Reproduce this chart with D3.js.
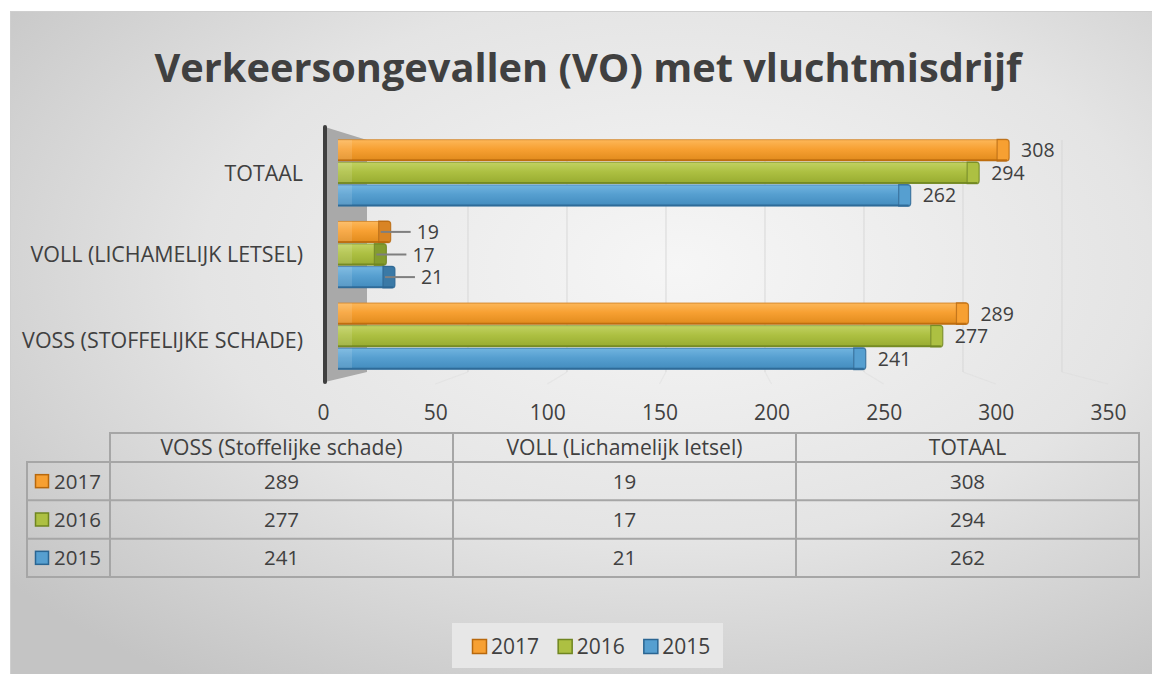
<!DOCTYPE html>
<html><head><meta charset="utf-8">
<script src="https://cdn.jsdelivr.net/npm/d3@7"></script>
<style>html,body{margin:0;padding:0;background:#fff;overflow:hidden}svg{display:block;font-family:"Open Sans",sans-serif}</style>
</head><body><svg id="c" width="1152" height="674"></svg>
<script>
// ---------- data ----------
const title = "Verkeersongevallen (VO) met vluchtmisdrijf";
const seriesYears = ["2017", "2016", "2015"];
const categories = ["VOSS (Stoffelijke schade)", "VOLL (Lichamelijk letsel)", "TOTAAL"];
const axisLabels = ["VOSS (STOFFELIJKE SCHADE)", "VOLL (LICHAMELIJK LETSEL)", "TOTAAL"];
const values2017 = [289, 19, 308];
const values2016 = [277, 17, 294];
const values2015 = [241, 21, 262];
const xTicks = [0, 50, 100, 150, 200, 250, 300, 350];

const seriesValues = { "2017": values2017, "2016": values2016, "2015": values2015 };
const palette = {
  "2017": { top: "#fdb85a", base: "#f7a032", bottom: "#e08a1c", edge: "#b8680c", cap: "#d98424" },
  "2016": { top: "#c2d263", base: "#adc042", bottom: "#97ab30", edge: "#6f8520", cap: "#849c2e" },
  "2015": { top: "#72b5e0", base: "#569fd0", bottom: "#428bbd", edge: "#2a6592", cap: "#3a79a6" }
};
const textColor = "#404040";

const svg = d3.select("#c");
const defs = svg.append("defs");

// background
const bg = defs.append("radialGradient").attr("id", "bg")
  .attr("cx", "58%").attr("cy", "38%").attr("r", "75%");
bg.append("stop").attr("offset", "0%").attr("stop-color", "#f6f6f6");
bg.append("stop").attr("offset", "55%").attr("stop-color", "#e4e4e4");
bg.append("stop").attr("offset", "100%").attr("stop-color", "#c4c4c4");
svg.append("rect").attr("x", 10.5).attr("y", 11.5).attr("width", 1150).attr("height", 670)
  .attr("fill", "url(#bg)").attr("stroke", "#cfcfcf");

seriesYears.forEach(y => {
  const g = defs.append("linearGradient").attr("id", "g" + y).attr("x1", 0).attr("y1", 0).attr("x2", 0).attr("y2", 1);
  g.append("stop").attr("offset", "0%").attr("stop-color", palette[y].top);
  g.append("stop").attr("offset", "45%").attr("stop-color", palette[y].base);
  g.append("stop").attr("offset", "100%").attr("stop-color", palette[y].bottom);
});

function fit(sel, target) {
  let w = 0;
  sel.each(function () { w = Math.max(w, this.getComputedTextLength()); });
  const fs = parseFloat(sel.attr("font-size"));
  sel.attr("font-size", (fs * target / w).toFixed(2));
}

// title
const t = svg.append("text").attr("x", 588).attr("y", 68).attr("dy", "0.35em")
  .attr("text-anchor", "middle").attr("font-weight", "bold").attr("font-size", 40)
  .attr("fill", textColor).text(title);
fit(t, 867);

// ---------- scales ----------
const xBar = d3.scaleLinear().domain([0, 350]).range([338, 1087]);
const xAxisS = d3.scaleLinear().domain([0, 350]).range([323, 1108]);
const xBack = d3.scaleLinear().domain([0, 350]).range([369, 1062]);
const yCat = d3.scaleBand().domain(categories.slice().reverse()).range([132, 377])
  .paddingInner(0.17).paddingOuter(0.085);
const ySer = d3.scaleBand().domain(seriesYears).range([0, yCat.bandwidth()]);

// side wall + gridlines
const wallTop = 127, wallBot = 382;
svg.append("polygon")
  .attr("points", [[xAxisS(0) + 2, wallTop], [xBack(0) - 2, wallTop + 13], [xBack(0) - 2, wallBot - 10], [xAxisS(0) + 2, wallBot]].join(" "))
  .attr("fill", "#a9a9a9");
const grid = svg.append("g").attr("stroke", "#d6d6d6").attr("stroke-width", 1.2);
xTicks.filter(d => d > 0).forEach(d => {
  grid.append("line").attr("x1", xBack(d)).attr("x2", xBack(d)).attr("y1", wallTop + 13).attr("y2", wallBot - 10)
    .attr("stroke-opacity", 0.8);
  grid.append("line").attr("x1", xAxisS(d)).attr("x2", xBack(d)).attr("y1", wallBot + 2).attr("y2", wallBot - 10)
    .attr("stroke-opacity", 0.35);
});
svg.append("line").attr("x1", xAxisS(0) + 2).attr("x2", xAxisS(0) + 2).attr("y1", wallTop).attr("y2", wallBot)
  .attr("stroke", "#3f3f3f").attr("stroke-width", 4).attr("stroke-linecap", "round");

// ---------- bars ----------
const capW = 12;
const bars = svg.append("g");
categories.forEach((cat, ci) => {
  seriesYears.forEach(yr => {
    const v = seriesValues[yr][ci];
    const p = palette[yr];
    const y0 = yCat(cat) + ySer(yr);
    const h = ySer.bandwidth();
    const x0 = xBar(0), x1 = xBar(v);
    const g = bars.append("g");
    g.append("rect").attr("x", x0).attr("y", y0 + 0.5).attr("width", x1 - x0).attr("height", h - 1)
      .attr("fill", "url(#g" + yr + ")");
    // end cap
    g.append("path")
      .attr("d", `M${x1},${y0 + 0.5} L${x1 + capW - 3},${y0 + 0.5} Q${x1 + capW},${y0 + 0.5} ${x1 + capW},${y0 + 3.5} L${x1 + capW},${y0 + h - 3.5} Q${x1 + capW},${y0 + h - 0.5} ${x1 + capW - 3},${y0 + h - 0.5} L${x1},${y0 + h - 0.5} Z`)
      .attr("fill", v < 40 ? p.cap : p.base).attr("stroke", p.edge).attr("stroke-width", 1.2).attr("stroke-opacity", 0.8);
    // top/bottom edges
    g.append("line").attr("x1", x0).attr("x2", x1 + capW - 2).attr("y1", y0 + 0.8).attr("y2", y0 + 0.8)
      .attr("stroke", p.edge).attr("stroke-opacity", 0.55).attr("stroke-width", 1);
    g.append("line").attr("x1", x0).attr("x2", x1 + capW - 2).attr("y1", y0 + h - 1.2).attr("y2", y0 + h - 1.2)
      .attr("stroke", p.edge).attr("stroke-width", 2).attr("stroke-opacity", 0.85);
    // subtle highlight near start
    g.append("rect").attr("x", x0).attr("y", y0 + 1).attr("width", Math.min(14, x1 - x0)).attr("height", h - 3)
      .attr("fill", "#ffffff").attr("opacity", 0.12);
    // label
    const small = v < 40;
    const lx = small ? x1 + 38 : x1 + capW + 12;
    if (small) {
      g.append("line").attr("x1", x1 + 2).attr("x2", lx - 6).attr("y1", y0 + h / 2).attr("y2", y0 + h / 2)
        .attr("stroke", "#7f7f7f").attr("stroke-width", 2);
    }
    g.append("text").attr("x", lx).attr("y", y0 + h / 2).attr("dy", "0.36em")
      .attr("font-size", 19.5).attr("fill", textColor).text(v);
  });
});

// ---------- axes ----------
const ax = svg.append("g").attr("transform", "translate(0,400)")
  .call(d3.axisBottom(xAxisS).tickValues(xTicks).tickSize(0).tickPadding(0));
ax.select(".domain").remove();
ax.selectAll("text").attr("y", 12).attr("dy", "0.36em").attr("font-size", 21)
  .attr("font-family", "Open Sans").attr("fill", textColor);

const ay = svg.append("g").attr("transform", "translate(303,0)")
  .call(d3.axisLeft(yCat).tickSize(0).tickPadding(0).tickFormat(d => axisLabels[categories.indexOf(d)]));
ay.select(".domain").remove();
const ayt = ay.selectAll("text").attr("font-size", 19).attr("font-family", "Open Sans").attr("fill", textColor).attr("dy", "0.36em");
fit(ayt, 281);
ay.selectAll(".tick").filter(d => d === categories[0]).select("text").attr("y", 4);

// ---------- data table ----------
const tableLeft = 27, headLeft = 110, tableRight = 1139;
const headTop = 433, headBot = 462, tableBot = 577;
const colX = d3.scaleBand().domain(categories).range([headLeft, tableRight]);
const rowY = d3.scaleBand().domain(seriesYears).range([headBot, tableBot]);
const tb = svg.append("g");
const stroke = "#a6a6a6";
tb.append("rect").attr("x", headLeft).attr("y", headTop).attr("width", tableRight - headLeft).attr("height", headBot - headTop)
  .attr("fill", "none").attr("stroke", stroke).attr("stroke-width", 2);
tb.append("rect").attr("x", tableLeft).attr("y", headBot).attr("width", tableRight - tableLeft).attr("height", tableBot - headBot)
  .attr("fill", "none").attr("stroke", stroke).attr("stroke-width", 2);
seriesYears.slice(1).forEach(yr => {
  tb.append("line").attr("x1", tableLeft).attr("x2", tableRight).attr("y1", rowY(yr)).attr("y2", rowY(yr))
    .attr("stroke", stroke).attr("stroke-width", 2);
});
categories.forEach(c => {
  tb.append("line").attr("x1", colX(c)).attr("x2", colX(c)).attr("y1", headTop).attr("y2", tableBot)
    .attr("stroke", stroke).attr("stroke-width", 2);
});
const heads = tb.selectAll(".hd").data(categories).join("text").attr("class", "hd")
  .attr("x", d => colX(d) + colX.bandwidth() / 2).attr("y", (headTop + headBot) / 2).attr("dy", "0.36em")
  .attr("text-anchor", "middle").attr("font-size", 18).attr("fill", textColor).text(d => d);
fit(heads.filter(d => d === categories[0]), 242);
heads.attr("font-size", heads.filter(d => d === categories[0]).attr("font-size"));

seriesYears.forEach(yr => {
  const cy = rowY(yr) + rowY.bandwidth() / 2;
  tb.append("rect").attr("x", 35.5).attr("y", cy - 6.5).attr("width", 13).attr("height", 13)
    .attr("fill", palette[yr].base).attr("stroke", palette[yr].edge).attr("stroke-width", 1.5);
  tb.append("text").attr("x", 54).attr("y", cy).attr("dy", "0.36em").attr("font-size", 20.5)
    .attr("fill", textColor).text(yr);
  categories.forEach((c, ci) => {
    tb.append("text").attr("x", colX(c) + colX.bandwidth() / 2).attr("y", cy).attr("dy", "0.36em")
      .attr("text-anchor", "middle").attr("font-size", 20.5).attr("fill", textColor).text(seriesValues[yr][ci]);
  });
});

// ---------- legend ----------
const lg = svg.append("g");
lg.append("rect").attr("x", 452).attr("y", 623).attr("width", 271).attr("height", 45).attr("fill", "#e7e7e7");
const lx = d3.scaleBand().domain(seriesYears).range([466, 723]);
seriesYears.forEach(yr => {
  const x = lx(yr) + 6;
  lg.append("rect").attr("x", x + 0.5).attr("y", 639.5).attr("width", 14).attr("height", 14)
    .attr("fill", palette[yr].base).attr("stroke", palette[yr].edge).attr("stroke-width", 1.5);
  lg.append("text").attr("x", x + 19).attr("y", 646).attr("dy", "0.36em").attr("font-size", 21)
    .attr("fill", textColor).text(yr);
});
</script></body></html>
